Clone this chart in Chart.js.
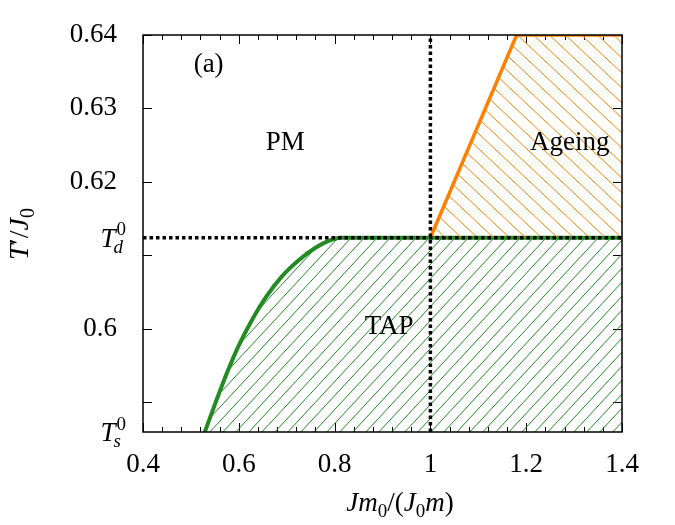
<!DOCTYPE html>
<html>
<head>
<meta charset="utf-8">
<script src="https://cdn.jsdelivr.net/npm/chart.js@4.4.0/dist/chart.umd.min.js"></script>
<style>
  html, body { margin: 0; padding: 0; background: #fff; }
</style>
</head>
<body>
<canvas id="chart" width="675" height="525"></canvas>
<script>
// temperaturas de referencia
var T_D = 0.61237;
var T_S = 0.5859;

// ejes
var xTicks = [0.4, 0.6, 0.8, 1.0, 1.2, 1.4];
var xTickLabels = ['0.4', '0.6', '0.8', '1', '1.2', '1.4'];
var yTicks = [0.59, 0.60, 0.61, 0.62, 0.63, 0.64];
var yTickLabels = ['', '0.6', '', '0.62', '0.63', '0.64'];

// frontera TAP (verde)
var tapX = [0.529, 0.552, 0.575, 0.600, 0.627, 0.657, 0.690, 0.725, 0.760, 0.790, 0.812, 1.4];
var tapY = [T_S, 0.5900, 0.5939, 0.5977, 0.6011, 0.6043, 0.6071, 0.6093, 0.6110, 0.6120, T_D, T_D];

// frontera ageing (naranja)
var ageX = [1.0, 1.18, 1.4];
var ageY = [T_D, 0.64, 0.64];

// textos dentro del gráfico
var regionLabels = ['(a)', 'PM', 'Ageing', 'TAP'];
var regionX = [0.537, 0.697, 1.291, 0.914];
var regionY = [0.6359, 0.6253, 0.6253, 0.6002];

var VERDE = '#228b22';
var NARANJA = '#ff8000';
var FONT = "'Liberation Serif', serif";

function puntos(xs, ys) {
  return xs.map(function(x, i) { return { x: x, y: ys[i] }; });
}

/**
 * Patrón de rayado; dir > 0 es '/', dir < 0 es '\'
 */
function rayado(ctx, color, w, h, dir) {
  var c = document.createElement('canvas');
  c.width = w; c.height = h;
  var g = c.getContext('2d');
  g.strokeStyle = color;
  g.lineWidth = 1;
  g.beginPath();
  [-w, 0, w].forEach(function(dx) {
    if (dir > 0) { g.moveTo(dx, h); g.lineTo(dx + w, 0); }
    else { g.moveTo(dx, 0); g.lineTo(dx + w, h); }
  });
  g.stroke();
  return ctx.createPattern(c, 'repeat');
}

// dibuja texto con subíndices / superíndices; partes: [texto, 'i'|'r', desplazamiento]
function textoRico(ctx, partes, x, y, size) {
  var small = Math.round(size * 0.7);
  function fuente(p) {
    var s = p[2] ? small : size;
    return (p[1] === 'i' ? 'italic ' : '') + s + 'px ' + FONT;
  }
  var total = 0;
  partes.forEach(function(p) { ctx.font = fuente(p); total += ctx.measureText(p[0]).width; });
  var cx = x - total / 2;
  ctx.textAlign = 'left';
  ctx.textBaseline = 'alphabetic';
  partes.forEach(function(p) {
    ctx.font = fuente(p);
    var dy = p[2] === 'sub' ? size * 0.22 : (p[2] === 'sup' ? -size * 0.38 : 0);
    ctx.fillText(p[0], cx, y + dy);
    cx += ctx.measureText(p[0]).width;
  });
}

// etiqueta tipo T_d^0 alineada a la derecha en x
function etiquetaT(ctx, sub, xRight, yMid, size) {
  var small = Math.round(size * 0.7);
  ctx.textBaseline = 'alphabetic';
  ctx.textAlign = 'left';
  ctx.font = small + 'px ' + FONT;
  var w0 = ctx.measureText('0').width;
  ctx.font = 'italic ' + small + 'px ' + FONT;
  var ws = ctx.measureText(sub).width;
  ctx.font = 'italic ' + size + 'px ' + FONT;
  var wT = ctx.measureText('T').width;
  var wIdx = Math.max(w0, ws);
  var x0 = xRight - wIdx - wT;
  var base = yMid + size * 0.33;
  ctx.fillText('T', x0, base);
  ctx.font = small + 'px ' + FONT;
  ctx.fillText('0', x0 + wT + 1, base - size * 0.42);
  ctx.font = 'italic ' + small + 'px ' + FONT;
  ctx.fillText(sub, x0 + wT - 2, base + size * 0.22);
}

var decoraciones = {
  id: 'decoraciones',
  beforeDatasetsDraw: function(chart) {
    var ctx = chart.ctx, a = chart.chartArea;
    var xs = chart.scales.x, ys = chart.scales.y;
    ctx.save();
    ctx.strokeStyle = '#000';
    ctx.lineWidth = 1;
    ctx.beginPath();
    // marcas del eje x (mayores y menores), hacia dentro
    xTicks.forEach(function(v, i) {
      var px = Math.round(xs.getPixelForValue(v)) + 0.5;
      ctx.moveTo(px, a.bottom); ctx.lineTo(px, a.bottom - 9);
      ctx.moveTo(px, a.top); ctx.lineTo(px, a.top + 9);
      if (i < xTicks.length - 1) {
        var paso = (xTicks[i + 1] - v) / 5;
        for (var k = 1; k < 5; k++) {
          var pm = Math.round(xs.getPixelForValue(v + k * paso)) + 0.5;
          ctx.moveTo(pm, a.bottom); ctx.lineTo(pm, a.bottom - 5);
          ctx.moveTo(pm, a.top); ctx.lineTo(pm, a.top + 5);
        }
      }
    });
    yTicks.forEach(function(v) {
      var py = Math.round(ys.getPixelForValue(v)) + 0.5;
      ctx.moveTo(a.left, py); ctx.lineTo(a.left + 9, py);
      ctx.moveTo(a.right, py); ctx.lineTo(a.right - 9, py);
    });
    ctx.stroke();
    ctx.restore();
  },
  afterDatasetsDraw: function(chart) {
    var ctx = chart.ctx, a = chart.chartArea;
    var xs = chart.scales.x, ys = chart.scales.y;
    ctx.save();
    // marco
    ctx.strokeStyle = '#000';
    ctx.lineWidth = 1.5;
    ctx.strokeRect(a.left, a.top, a.right - a.left, a.bottom - a.top);

    // textos de regiones
    ctx.fillStyle = '#000';
    ctx.font = '27px ' + FONT;
    ctx.textAlign = 'center';
    ctx.textBaseline = 'middle';
    regionLabels.forEach(function(t, i) {
      ctx.fillText(t, xs.getPixelForValue(regionX[i]), ys.getPixelForValue(regionY[i]));
    });

    // etiquetas especiales del eje y
    etiquetaT(ctx, 'd', a.left - 18, ys.getPixelForValue(T_D), 27);
    etiquetaT(ctx, 's', a.left - 18, ys.getPixelForValue(T_S), 27);

    // título eje x
    textoRico(ctx, [['Jm', 'i'], ['0', 'r', 'sub'], ['/(', 'r'], ['J', 'i'], ['0', 'r', 'sub'], ['m', 'i'], [')', 'r']],
      400, 511, 27);

    // título eje y (rotado)
    ctx.translate(28, 234);
    ctx.rotate(-Math.PI / 2);
    textoRico(ctx, [['T', 'i'], ['\u2032', 'r'], ['/', 'r'], ['J', 'i'], ['0', 'r', 'sub']], 0, 0, 28);
    ctx.restore();
  }
};

var canvas = document.getElementById('chart');
var ctx = canvas.getContext('2d');

new Chart(ctx, {
  type: 'line',
  data: {
    datasets: [
      {
        label: 'TAP',
        data: puntos(tapX, tapY),
        borderColor: VERDE,
        borderWidth: 4,
        backgroundColor: rayado(ctx, VERDE, 13, 14, 1),
        fill: 'start',
        cubicInterpolationMode: 'monotone',
        pointRadius: 0,
        order: 4
      },
      {
        label: 'Ageing',
        data: puntos(ageX, ageY),
        borderColor: NARANJA,
        borderWidth: 3.5,
        backgroundColor: rayado(ctx, NARANJA, 16, 15, -1),
        fill: { value: T_D },
        tension: 0,
        pointRadius: 0,
        order: 3
      },
      {
        label: 'Td',
        data: puntos([0.4, 1.4], [T_D, T_D]),
        borderColor: '#000',
        borderWidth: 3.5,
        borderDash: [3.5, 3],
        borderCapStyle: 'butt',
        fill: false,
        pointRadius: 0,
        order: 1
      },
      {
        label: 'x1',
        data: puntos([1.0, 1.0], [T_S, 0.64]),
        borderColor: '#000',
        borderWidth: 3.5,
        borderDash: [3.5, 3],
        borderCapStyle: 'butt',
        fill: false,
        pointRadius: 0,
        order: 1
      }
    ]
  },
  options: {
    responsive: false,
    animation: false,
    layout: { padding: { top: 35, right: 53, left: 0, bottom: 0 } },
    plugins: {
      legend: { display: false },
      tooltip: { enabled: false }
    },
    scales: {
      x: {
        type: 'linear',
        min: 0.4,
        max: 1.4,
        afterBuildTicks: function(scale) {
          scale.ticks = xTicks.map(function(v) { return { value: v }; });
        },
        afterFit: function(scale) { scale.height = 93; },
        grid: { display: false },
        border: { display: false },
        ticks: {
          autoSkip: false,
          maxRotation: 0,
          padding: 9,
          color: '#000',
          font: { family: FONT, size: 27 },
          callback: function(v, i) { return xTickLabels[i]; }
        }
      },
      y: {
        type: 'linear',
        min: T_S,
        max: 0.64,
        afterBuildTicks: function(scale) {
          scale.ticks = yTicks.map(function(v) { return { value: v }; });
        },
        afterFit: function(scale) { scale.width = 143; },
        grid: { display: false },
        border: { display: false },
        ticks: {
          autoSkip: false,
          padding: 18,
          color: '#000',
          font: { family: FONT, size: 27 },
          callback: function(v, i) { return yTickLabels[i]; }
        }
      }
    }
  },
  plugins: [decoraciones]
});
</script>
</body>
</html>
